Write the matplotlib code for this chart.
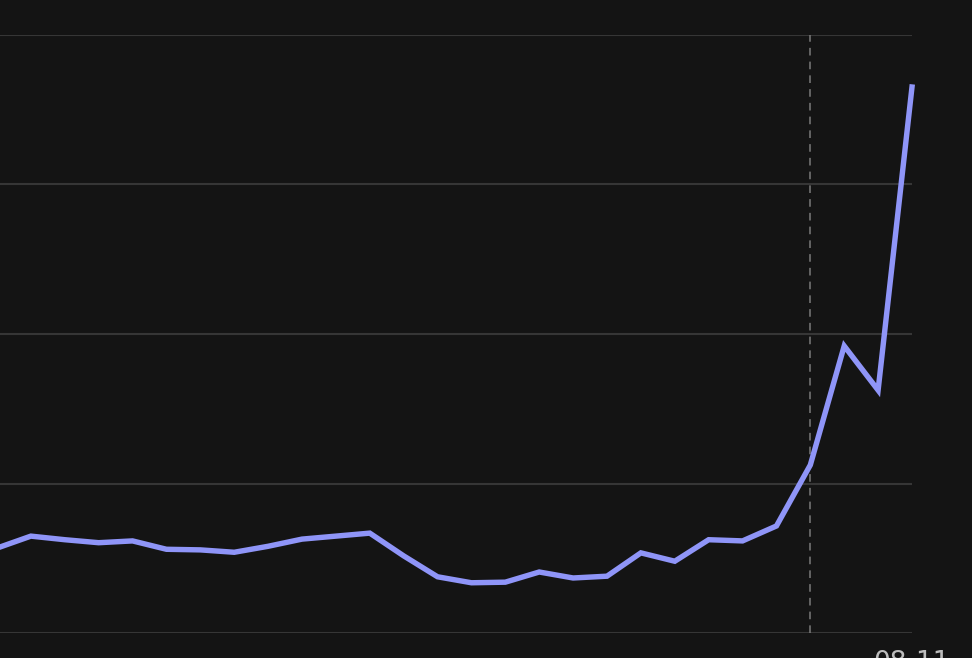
import matplotlib
matplotlib.use("Agg")
import matplotlib.pyplot as plt

# daily values, 07-15 .. 08-11
dates = ["07-15", "07-16", "07-17", "07-18", "07-19", "07-20", "07-21",
         "07-22", "07-23", "07-24", "07-25", "07-26", "07-27", "07-28",
         "07-29", "07-30", "07-31", "08-01", "08-02", "08-03", "08-04",
         "08-05", "08-06", "08-07", "08-08", "08-09", "08-10", "08-11"]
values = [14.2, 16.2, 15.6, 15.1, 15.4, 14.0, 13.9,
          13.5, 14.5, 15.7, 16.2, 16.7, 12.9, 9.4,
          8.4, 8.5, 10.2, 9.2, 9.5, 13.4, 12.0,
          15.6, 15.4, 17.9, 28.1, 48.0, 40.6, 91.3]
y_ticks = [0, 25, 50, 75, 100]
marker_date = "08-08"
shown_labels = ["08-11"]

bg = "#141414"
fig = plt.figure(figsize=(9.72, 6.58), dpi=100, facecolor=bg)
ax = fig.add_axes([-3 / 972, 25 / 658, 915 / 972, 598 / 658], facecolor=bg)

x = list(range(len(dates)))
ax.plot(x, values, color="#8f95f8", lw=3.9, solid_joinstyle="miter",
        clip_on=False, zorder=3)

ax.axvline(dates.index(marker_date), color="#7a7a7a", lw=1.1,
           ls=(0, (5, 4)), zorder=2)

ax.set_xlim(0, len(dates) - 1)
ax.set_ylim(y_ticks[0], y_ticks[-1])
ax.set_yticks(y_ticks)
ax.set_yticklabels([])
ax.grid(axis="y", color="#363636", lw=1.5, zorder=1)

tick_pos = [dates.index(d) for d in shown_labels]
ax.set_xticks(tick_pos)
ax.set_xticklabels(shown_labels, color="#bdbdbd", fontsize=19)
ax.tick_params(axis="x", length=0, pad=12.5)
ax.tick_params(axis="y", length=0)
for s in ax.spines.values():
    s.set_visible(False)

fig.savefig("out.png", dpi=100, facecolor=bg)
